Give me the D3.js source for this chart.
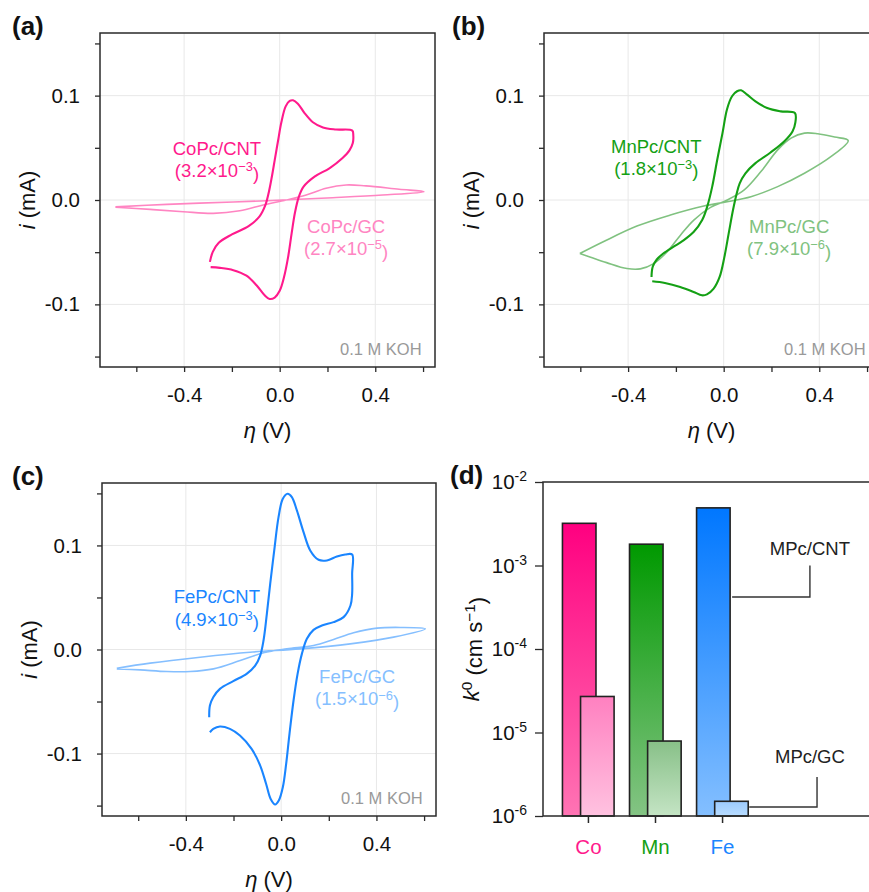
<!DOCTYPE html>
<html><head><meta charset="utf-8">
<script src="https://cdn.jsdelivr.net/npm/d3@7"></script>
<style>
body{margin:0;background:#fff}
text{font-family:"Liberation Sans",Arial,Helvetica,sans-serif}
</style>
</head><body>
<svg id="c" width="869" height="892"></svg>
<script>
// ---------------- DATA ----------------
// CV curves: [eta (V), i (mA)]
const coCNT = [[-0.292,-0.0593],[-0.28,-0.0497],[-0.255,-0.041],[-0.2,-0.033],[-0.13,-0.025],[-0.085,-0.016],[-0.06,-0.005],[-0.045,0.008],[-0.033,0.022],[-0.021,0.038],[-0.007,0.0565],[0.007,0.0745],[0.025,0.0897],[0.042,0.0949],[0.056,0.0955],[0.076,0.0923],[0.104,0.0833],[0.139,0.0745],[0.181,0.0695],[0.236,0.0675],[0.304,0.0665],
  [0.308,0.062],[0.306,0.0545],[0.292,0.0475],[0.262,0.040],[0.208,0.0304],[0.146,0.0224],[0.1,0.0128],[0.08,0.003],[0.064,-0.012],[0.05,-0.032],[0.035,-0.055],[0.018,-0.074],[0,-0.087],[-0.021,-0.0935],[-0.042,-0.0948],[-0.063,-0.0913],[-0.097,-0.0817],[-0.139,-0.0725],[-0.194,-0.0672],[-0.25,-0.065],[-0.289,-0.0643]];
const coGC = [[-0.6875,-0.0068],[-0.542,-0.009],[-0.403,-0.0112],[-0.278,-0.0128],[-0.167,-0.0103],[-0.069,-0.0048],[0.028,0],[0.111,0.0048],[0.194,0.0112],[0.278,0.0144],[0.361,0.0135],[0.5,0.0103],[0.604,0.008],
  [0.431,0.0048],[0.222,0.0022],[0.014,0],[-0.194,-0.0019],[-0.472,-0.0042],[-0.6875,-0.0066]];
const mnCNT = [[-0.302,-0.0737],[-0.297,-0.064],[-0.28,-0.057],[-0.253,-0.0513],[-0.211,-0.0449],[-0.17,-0.039],[-0.125,-0.0305],[-0.09,-0.0192],[-0.069,-0.0064],[-0.048,0.0128],[-0.027,0.0385],[-0.005,0.0641],[0.014,0.087],[0.035,0.0994],[0.056,0.1042],[0.073,0.1051],[0.098,0.101],[0.133,0.0946],[0.182,0.0881],[0.239,0.0849],[0.298,0.0833],
  [0.300,0.0744],[0.288,0.0657],[0.253,0.0561],[0.196,0.0455],[0.133,0.0353],[0.091,0.0256],[0.067,0.016],[0.053,0.0048],[0.039,-0.0096],[0.021,-0.032],[0.003,-0.0545],[-0.017,-0.0737],[-0.042,-0.0849],[-0.07,-0.0904],[-0.091,-0.0913],[-0.126,-0.0881],[-0.182,-0.0833],[-0.246,-0.0795],[-0.299,-0.0779]];
const mnGC = [[-0.602,-0.0513],[-0.56,-0.0545],[-0.49,-0.06],[-0.405,-0.0657],[-0.349,-0.066],[-0.293,-0.0609],[-0.237,-0.0497],[-0.181,-0.0337],[-0.125,-0.0192],[-0.055,-0.0071],[0.015,0],[0.086,0.0096],[0.156,0.0272],[0.226,0.048],[0.282,0.0593],[0.338,0.0641],[0.394,0.0635],[0.464,0.0603],[0.521,0.057],
  [0.45,0.0417],[0.338,0.0256],[0.226,0.0128],[0.114,0.0032],[0.015,-0.0016],[-0.083,-0.0058],[-0.223,-0.0144],[-0.363,-0.025],[-0.504,-0.04],[-0.602,-0.0513]];
const feCNT = [[-0.302,-0.0651],[-0.299,-0.0538],[-0.285,-0.0458],[-0.257,-0.0378],[-0.201,-0.0304],[-0.145,-0.0234],[-0.109,-0.0154],[-0.088,-0.0058],[-0.074,0.0087],[-0.06,0.0343],[-0.046,0.0631],[-0.029,0.0952],[-0.011,0.1272],[0.007,0.1449],[0.027,0.1497],[0.045,0.1465],[0.066,0.1337],[0.094,0.1128],[0.122,0.0952],[0.157,0.0862],[0.192,0.0856],[0.234,0.0894],[0.269,0.0913],[0.298,0.0913],
  [0.298,0.0728],[0.298,0.0535],[0.291,0.0423],[0.262,0.0311],[0.22,0.0263],[0.171,0.0231],[0.136,0.0189],[0.108,0.0103],[0.087,-0.0042],[0.069,-0.0234],[0.052,-0.049],[0.035,-0.0811],[0.021,-0.11],[0.007,-0.1324],[-0.01,-0.1452],[-0.025,-0.149],[-0.044,-0.1436],[-0.063,-0.1292],[-0.088,-0.1115],[-0.124,-0.0955],[-0.173,-0.0827],[-0.215,-0.0763],[-0.257,-0.074],[-0.285,-0.0763],[-0.299,-0.0795]];
const feGC = [[-0.69,-0.0186],[-0.592,-0.0196],[-0.48,-0.0212],[-0.382,-0.0212],[-0.284,-0.0186],[-0.172,-0.0106],[-0.074,-0.0032],[0.024,0.0006],[0.136,0.0038],[0.22,0.0096],[0.304,0.016],[0.402,0.0205],[0.5,0.0212],[0.605,0.0199],
  [0.472,0.0119],[0.29,0.0054],[0.08,0.0006],[-0.13,-0.0026],[-0.34,-0.0074],[-0.55,-0.0131],[-0.69,-0.018]];

// Axis ticks
const xTicks = [-0.6,-0.4,-0.2,0,0.2,0.4,0.6];
const xTickLabels = ["","-0.4","","0.0","","0.4",""];
const yTicks = [-0.15,-0.1,-0.05,0,0.05,0.1,0.15];
const yTickLabels = ["","-0.1","","0.0","","0.1",""];
const xGrid = [-0.4,0,0.4];
const yGrid = [-0.1,0,0.1];

// Rate constants k0 (cm s^-1)
const metals = ["Co","Mn","Fe"];
const k0CNT = [3.2e-3,1.8e-3,4.9e-3];
const k0GC  = [2.7e-5,7.9e-6,1.5e-6];
const logTicks = [1e-6,1e-5,1e-4,1e-3,1e-2];

// Labels
const cntLabels = ["CoPc/CNT","MnPc/CNT","FePc/CNT"];
const gcLabels  = ["CoPc/GC","MnPc/GC","FePc/GC"];
const cntK = [["3.2","3"],["1.8","3"],["4.9","3"]];
const gcK  = [["2.7","5"],["7.9","6"],["1.5","6"]];

// ---------------- STYLE ----------------
const cntColor = ["#ff1a8c","#14a014","#1a85ff"];
const gcColor  = ["#ff85c2","#80c280","#85bfff"];
const cntTop = ["#ff0080","#009900","#0077ff"], cntBot = ["#ff74b4","#84c484","#84bfff"];
const gcTop  = ["#ff80c0","#88c088","#9ccbff"], gcBot  = ["#ffc2e0","#c4e4c4","#b8dcff"];
const FONT_TICK = 20.5, FONT_ANN = 18.5, FONT_TITLE = 22;

const svg = d3.select("#c");
svg.append("rect").attr("width",869).attr("height",892).attr("fill","#fff");
const defs = svg.append("defs");

const xDomain = [-0.752, 0.65], yDomain = [-0.16, 0.16];

function addK(textSel, base, exp){
  textSel.append("tspan").text("(" + base + "\u00d710");
  textSel.append("tspan").attr("dy","-0.45em").attr("font-size","0.7em").text("\u2212" + exp);
  textSel.append("tspan").attr("dy","0.45em").text(")");
}

function cvPanel(cfg){
  const {x0,x1,y0,y1,idx,tag,ann} = cfg;
  const x = d3.scaleLinear().domain(xDomain).range([x0,x1]);
  const y = d3.scaleLinear().domain(yDomain).range([y1,y0]);
  const g = svg.append("g");
  // grid
  g.selectAll(".gx").data(xGrid).join("line")
    .attr("x1",d=>x(d)).attr("x2",d=>x(d)).attr("y1",y0).attr("y2",y1)
    .attr("stroke","#e8e8e8").attr("stroke-width",1);
  g.selectAll(".gy").data(yGrid).join("line")
    .attr("y1",d=>y(d)).attr("y2",d=>y(d)).attr("x1",x0).attr("x2",x1)
    .attr("stroke","#e8e8e8").attr("stroke-width",1);
  // clip
  const cid = "clip"+idx;
  defs.append("clipPath").attr("id",cid).append("rect")
    .attr("x",x0).attr("y",y0).attr("width",x1-x0).attr("height",y1-y0);
  const line = d3.line().x(d=>x(d[0])).y(d=>y(d[1])).curve(d3.curveCatmullRom.alpha(0.5));
  const cg = g.append("g").attr("clip-path",`url(#${cid})`);
  cg.append("path").attr("d", line(cfg.gc)).attr("fill","none")
    .attr("stroke",gcColor[idx]).attr("stroke-width",1.6);
  cg.append("path").attr("d", line(cfg.cnt)).attr("fill","none")
    .attr("stroke",cntColor[idx]).attr("stroke-width",2.1);
  // box
  g.append("rect").attr("x",x0).attr("y",y0).attr("width",x1-x0).attr("height",y1-y0)
    .attr("fill","none").attr("stroke","#2a2a2a").attr("stroke-width",1.5);
  // axes
  const ax = g.append("g").attr("transform",`translate(0,${y1})`)
    .call(d3.axisBottom(x).tickValues(xTicks).tickSize(5).tickPadding(15)
      .tickFormat((d,i)=>xTickLabels[i]));
  const ay = g.append("g").attr("transform",`translate(${x0},0)`)
    .call(d3.axisLeft(y).tickValues(yTicks).tickSize(5).tickPadding(15)
      .tickFormat((d,i)=>yTickLabels[i]));
  [ax,ay].forEach(a=>{
    a.select(".domain").remove();
    a.selectAll(".tick line").attr("stroke","#2a2a2a").attr("stroke-width",1.3);
    a.selectAll(".tick text").attr("font-size",FONT_TICK).attr("fill","#111")
      .attr("font-family",'"Liberation Sans",Arial,sans-serif');
  });
  // axis titles
  const xt = g.append("text").attr("x",(x0+x1)/2).attr("y",y1+71)
    .attr("text-anchor","middle").attr("font-size",FONT_TITLE).attr("fill","#111");
  xt.append("tspan").attr("font-style","italic").text("\u03b7");
  xt.append("tspan").text(" (V)");
  const yt = g.append("text").attr("transform",`translate(${x0-65},${(y0+y1)/2}) rotate(-90)`)
    .attr("text-anchor","middle").attr("font-size",FONT_TITLE).attr("fill","#111");
  yt.append("tspan").attr("font-style","italic").text("i");
  yt.append("tspan").text(" (mA)");
  // panel tag
  g.append("text").attr("x",cfg.tagX).attr("y",y0+2).attr("font-size",26)
    .attr("font-weight","bold").attr("fill","#111").text(tag);
  // electrolyte
  g.append("text").attr("x",x(0.594)).attr("y",y1-12).attr("text-anchor","end")
    .attr("font-size",16.5).attr("fill","#999").text("0.1 M KOH");
  // annotations
  g.append("text").attr("x",x(ann.cnt[0])).attr("y",y(ann.cnt[1])).attr("text-anchor","middle")
    .attr("font-size",FONT_ANN).attr("fill",cntColor[idx]).text(cntLabels[idx]);
  addK(g.append("text").attr("x",x(ann.cnt[0])).attr("y",y(ann.cnt[2])).attr("text-anchor","middle")
    .attr("font-size",FONT_ANN).attr("fill",cntColor[idx]), cntK[idx][0], cntK[idx][1]);
  g.append("text").attr("x",x(ann.gc[0])).attr("y",y(ann.gc[1])).attr("text-anchor","middle")
    .attr("font-size",FONT_ANN).attr("fill",gcColor[idx]).text(gcLabels[idx]);
  addK(g.append("text").attr("x",x(ann.gc[0])).attr("y",y(ann.gc[2])).attr("text-anchor","middle")
    .attr("font-size",FONT_ANN).attr("fill",gcColor[idx]), gcK[idx][0], gcK[idx][1]);
}

cvPanel({x0:100,x1:435,y0:33,y1:367,idx:0,tag:"(a)",tagX:12,cnt:coCNT,gc:coGC,
  ann:{cnt:[-0.2625,0.0433,0.022],gc:[0.278,-0.0317,-0.0529]}});
cvPanel({x0:544,x1:879,y0:33,y1:367,idx:1,tag:"(b)",tagX:452,cnt:mnCNT,gc:mnGC,
  ann:{cnt:[-0.282,0.0449,0.024],gc:[0.274,-0.0317,-0.0529]}});
cvPanel({x0:102,x1:436,y0:483,y1:816,idx:2,tag:"(c)",tagX:12,cnt:feCNT,gc:feGC,
  ann:{cnt:[-0.27,0.0449,0.023],gc:[0.319,-0.0324,-0.0538]}});

// ---------------- Panel (d) ----------------
(function(){
  const x0=543,x1=879,y0=482,y1=816;
  const x = d3.scaleLinear().domain([-0.67,4.34]).range([x0,x1]);
  const y = d3.scaleLog().domain([1e-6,1e-2]).range([y1,y0]);
  const g = svg.append("g");
  const bw0 = -0.38, bw1 = 0.12, gw0 = -0.11, gw1 = 0.39;
  metals.forEach((m,i)=>{
    [["cnt",cntTop[i],cntBot[i]],["gc",gcTop[i],gcBot[i]]].forEach(([k,t,b])=>{
      const lg = defs.append("linearGradient").attr("id",`g_${k}_${i}`)
        .attr("x1",0).attr("y1",0).attr("x2",0).attr("y2",1);
      lg.append("stop").attr("offset","0%").attr("stop-color",t);
      lg.append("stop").attr("offset","100%").attr("stop-color",b);
    });
  });
  g.selectAll(".bc").data(k0CNT).join("rect")
    .attr("x",(d,i)=>x(i+bw0)).attr("width",(d,i)=>x(i+bw1)-x(i+bw0))
    .attr("y",d=>y(d)).attr("height",d=>y(1e-6)-y(d))
    .attr("fill",(d,i)=>`url(#g_cnt_${i})`).attr("stroke","#222").attr("stroke-width",1.6);
  g.selectAll(".bg").data(k0GC).join("rect")
    .attr("x",(d,i)=>x(i+gw0)).attr("width",(d,i)=>x(i+gw1)-x(i+gw0))
    .attr("y",d=>y(d)).attr("height",d=>y(1e-6)-y(d))
    .attr("fill",(d,i)=>`url(#g_gc_${i})`).attr("stroke","#222").attr("stroke-width",1.6);
  // box
  g.append("rect").attr("x",x0).attr("y",y0).attr("width",x1-x0).attr("height",y1-y0)
    .attr("fill","none").attr("stroke","#2a2a2a").attr("stroke-width",1.5);
  const ay = g.append("g").attr("transform",`translate(${x0},0)`)
    .call(d3.axisLeft(y).tickValues(logTicks).tickSize(8).tickPadding(8).tickFormat(""));
  ay.select(".domain").remove();
  ay.selectAll(".tick line").attr("stroke","#2a2a2a").attr("stroke-width",1.3);
  ay.selectAll(".tick text").each(function(d){
    const t = d3.select(this).attr("font-size",FONT_TICK).attr("fill","#111")
      .attr("font-family",'"Liberation Sans",Arial,sans-serif');
    t.text(null);
    t.append("tspan").text("10");
    t.append("tspan").attr("dy","-0.55em").attr("font-size","14px").text("-"+Math.round(-Math.log10(d)));
  });
  const ax = g.append("g").attr("transform",`translate(0,${y1})`)
    .call(d3.axisBottom(x).tickValues([0,1,2]).tickSize(7).tickPadding(16).tickFormat((d,i)=>metals[i]));
  ax.select(".domain").remove();
  ax.selectAll(".tick line").attr("stroke","#2a2a2a").attr("stroke-width",1.5);
  ax.selectAll(".tick text").attr("font-size",FONT_TICK)
    .attr("font-family",'"Liberation Sans",Arial,sans-serif').attr("fill",(d,i)=>cntColor[i]);
  // y title
  const yt = g.append("text").attr("transform",`translate(${x0-64},${(y0+y1)/2}) rotate(-90)`)
    .attr("text-anchor","middle").attr("font-size",FONT_TITLE).attr("fill","#111");
  yt.append("tspan").attr("font-style","italic").text("k");
  yt.append("tspan").attr("dy","-0.45em").attr("font-size","0.7em").text("0");
  yt.append("tspan").attr("dy","0.45em").text(" (cm s");
  yt.append("tspan").attr("dy","-0.45em").attr("font-size","0.7em").text("\u22121");
  yt.append("tspan").attr("dy","0.45em").text(")");
  // tag
  g.append("text").attr("x",450).attr("y",y0+2).attr("font-size",26)
    .attr("font-weight","bold").attr("fill","#111").text("(d)");
  // callouts
  const callouts = [
    {label:"MPc/CNT", from:[2+bw1, 4.2e-4], corner:3.31, top:1.0e-3, labelY:1.34e-3, labelX:3.31, dx:2},
    {label:"MPc/GC",  from:[2+gw1, 1.28e-6], corner:3.416, top:2.93e-6, labelY:4.3e-6, labelX:3.31, dx:1}
  ];
  callouts.forEach(c=>{
    g.append("path").attr("fill","none").attr("stroke","#333").attr("stroke-width",1.4)
      .attr("d",`M${x(c.from[0])+c.dx},${y(c.from[1])}H${x(c.corner)}V${y(c.top)}`);
    g.append("text").attr("x",x(c.labelX)).attr("y",y(c.labelY)).attr("text-anchor","middle")
      .attr("font-size",FONT_ANN).attr("fill","#222").text(c.label);
  });
})();
</script>
</body></html>
